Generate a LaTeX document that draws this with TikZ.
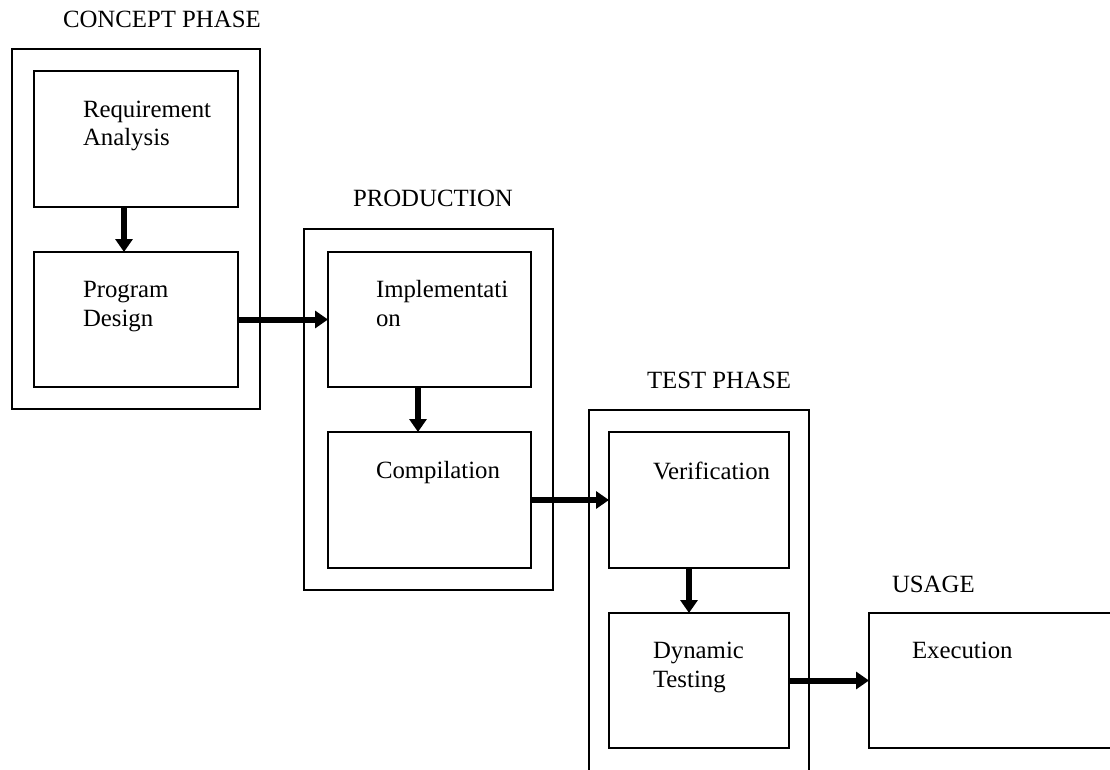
\documentclass[tikz,border=0pt]{standalone}
\usepackage{fontspec}
\setmainfont{Liberation Serif}
\usetikzlibrary{arrows.meta}

\begin{document}
\begin{tikzpicture}[x=1pt,y=-1pt,
  every node/.style={inner sep=0pt, outer sep=0pt},
  phasebox/.style={draw, line width=1.3pt, anchor=north west},
  stepbox/.style={draw, line width=1.8pt, anchor=north west},
  caption/.style={anchor=base west, font=\fontsize{24.8pt}{28.5pt}\selectfont},
  txt/.style={anchor=base west, align=left, font=\fontsize{24.8pt}{28.5pt}\selectfont},
  flow/.style={line width=6pt, -{Triangle[length=13pt,width=17pt]}, shorten >=0pt}
]
\useasboundingbox (0,0) rectangle (1110,770);
\clip (0,0) rectangle (1110,770);

% phase frames
\node[phasebox, minimum width=248pt, minimum height=360pt] (concept) at (12,49) {};
\node[phasebox, minimum width=249pt, minimum height=361pt] (production) at (304,229) {};
\node[phasebox, minimum width=220pt, minimum height=380pt] (test) at (589,410) {};

% phase captions
\node[caption] (conceptcap) at (63,28) {CONCEPT PHASE};
\node[caption] (productioncap) at (353,207) {PRODUCTION};
\node[caption] (testcap) at (647,388) {TEST PHASE};
\node[caption] (usagecap) at (892,592) {USAGE};

% steps
\node[stepbox, minimum width=204pt, minimum height=136pt] (req) at (34,71) {};
\node[stepbox, minimum width=204pt, minimum height=135pt] (design) at (34,252) {};
\node[stepbox, minimum width=203pt, minimum height=135pt] (impl) at (328,252) {};
\node[stepbox, minimum width=203pt, minimum height=136pt] (comp) at (328,432) {};
\node[stepbox, minimum width=180pt, minimum height=136pt] (verif) at (609,432) {};
\node[stepbox, minimum width=180pt, minimum height=135pt] (dyn) at (609,613) {};
\node[stepbox, minimum width=260pt, minimum height=135pt] (exec) at (869,613) {};

% step texts (two-line texts are placed by the baseline of their last line)
\node[txt] (reqt) at (83,146) {Requirement\\Analysis};
\node[txt] (designt) at (83,326) {Program\\Design};
\node[txt] (implt) at (376,326) {Implementati\\on};
\node[txt] (compt) at (376,478) {Compilation};
\node[txt] (veriftxt) at (653,479) {Verification};
\node[txt] (dynt) at (653,687) {Dynamic\\Testing};
\node[txt] (exect) at (912,658) {Execution};

% flow arrows
\draw[flow] ([xshift=-12pt]req.south) -- ([xshift=-12pt]design.north);
\draw[flow] (design.east) -- (impl.west);
\draw[flow] ([xshift=-11.5pt]impl.south) -- ([xshift=-11.5pt]comp.north);
\draw[flow] (comp.east) -- (verif.west);
\draw[flow] ([xshift=-10pt]verif.south) -- ([xshift=-10pt]dyn.north);
\draw[flow] (dyn.east) -- (exec.west);
\end{tikzpicture}
\end{document}
